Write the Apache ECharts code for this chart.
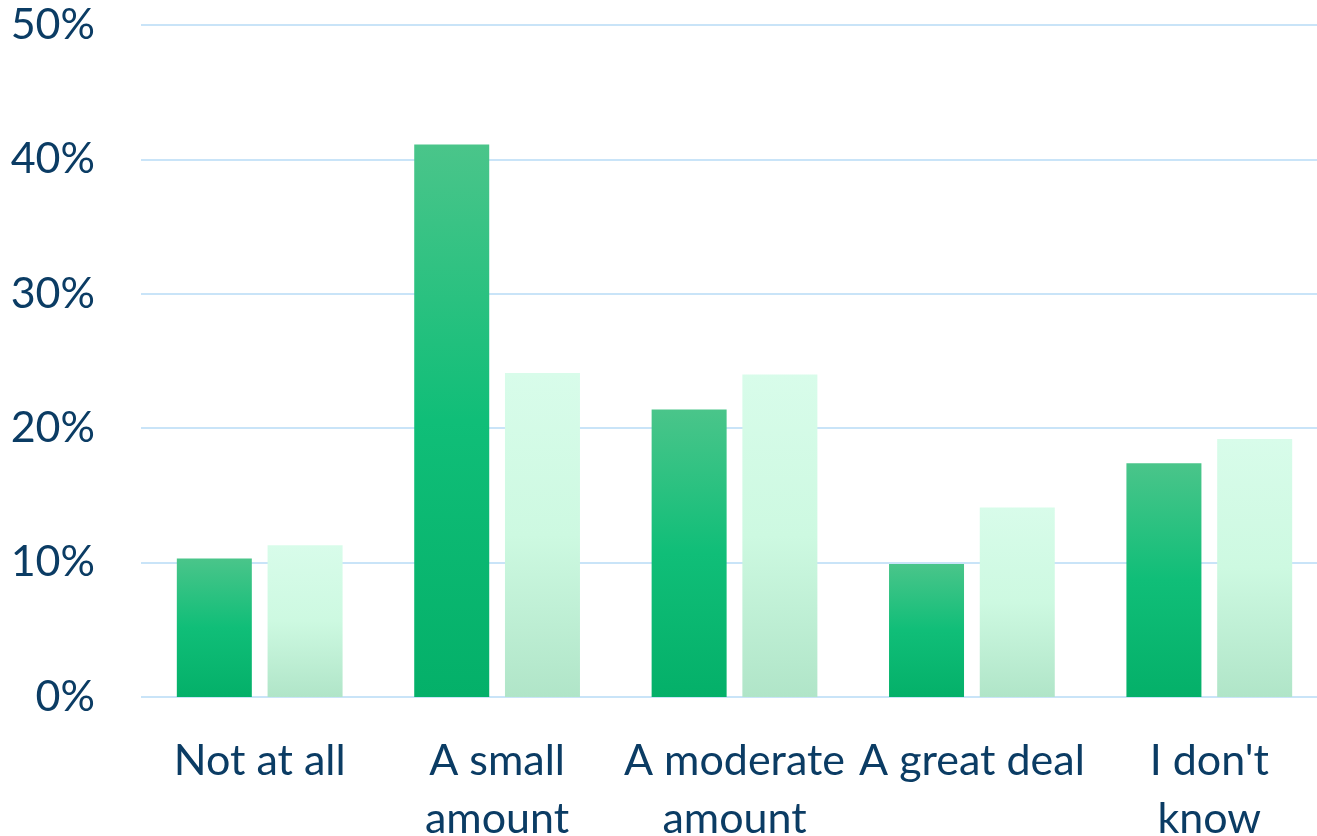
<!DOCTYPE html>
<html>
<head>
<meta charset="utf-8">
<script src="https://cdn.jsdelivr.net/npm/echarts@6/dist/echarts.min.js"></script>
<style>
  html, body { margin: 0; padding: 0; background: #ffffff; }
  #chart { width: 1317px; height: 836px; }
</style>
</head>
<body>
<div id="chart"></div>
<script>
// Survey answer categories (x axis)
const categories = ['Not at all', 'A small\namount', 'A moderate\namount', 'A great deal', "I don't\nknow"];
// Share of respondents per answer, in percent
const seriesA = [10.3, 41.1, 21.4, 9.9, 17.4];
const seriesB = [11.3, 24.1, 24.0, 14.1, 19.2];
// Value axis ticks (percent)
const yTicks = [0, 10, 20, 30, 40, 50];

const labelColor = '#0b3c64';
const fontFamily = 'Lato, "Open Sans", sans-serif';

const chart = echarts.init(document.getElementById('chart'), null, { renderer: 'canvas' });

function vGrad(stops) {
  return new echarts.graphic.LinearGradient(0, 0, 0, 1, stops.map((c, i) => ({ offset: i / (stops.length - 1), color: c })));
}

chart.setOption({
  animation: false,
  // the plot area runs slightly past the right edge of the canvas
  grid: { left: 141, right: -11, top: 25, bottom: 139, containLabel: false, outerBoundsMode: 'none' },
  xAxis: {
    type: 'category',
    data: categories,
    axisLine: { show: false },
    axisTick: { show: false },
    axisLabel: {
      color: labelColor,
      fontFamily: fontFamily,
      fontSize: 43,
      lineHeight: 58,
      margin: 35,
      interval: 0,
      hideOverlap: false
    }
  },
  yAxis: {
    type: 'value',
    min: yTicks[0],
    max: yTicks[yTicks.length - 1],
    interval: 10,
    axisLine: { show: false },
    axisTick: { show: false },
    splitLine: { lineStyle: { color: '#c9e4f8', width: 2 } },
    axisLabel: {
      color: labelColor,
      fontFamily: fontFamily,
      fontSize: 43,
      margin: 46,
      formatter: v => v + '%'
    }
  },
  series: [
    {
      type: 'bar',
      data: seriesA,
      barWidth: 75,
      barGap: '21%',
      itemStyle: { color: vGrad(['#4ac58a', '#10be78', '#04b069']) }
    },
    {
      type: 'bar',
      data: seriesB,
      barWidth: 75,
      itemStyle: { color: vGrad(['#d8fcea', '#cdf9e1', '#b0e5c8']) }
    }
  ]
});
</script>
</body>
</html>
